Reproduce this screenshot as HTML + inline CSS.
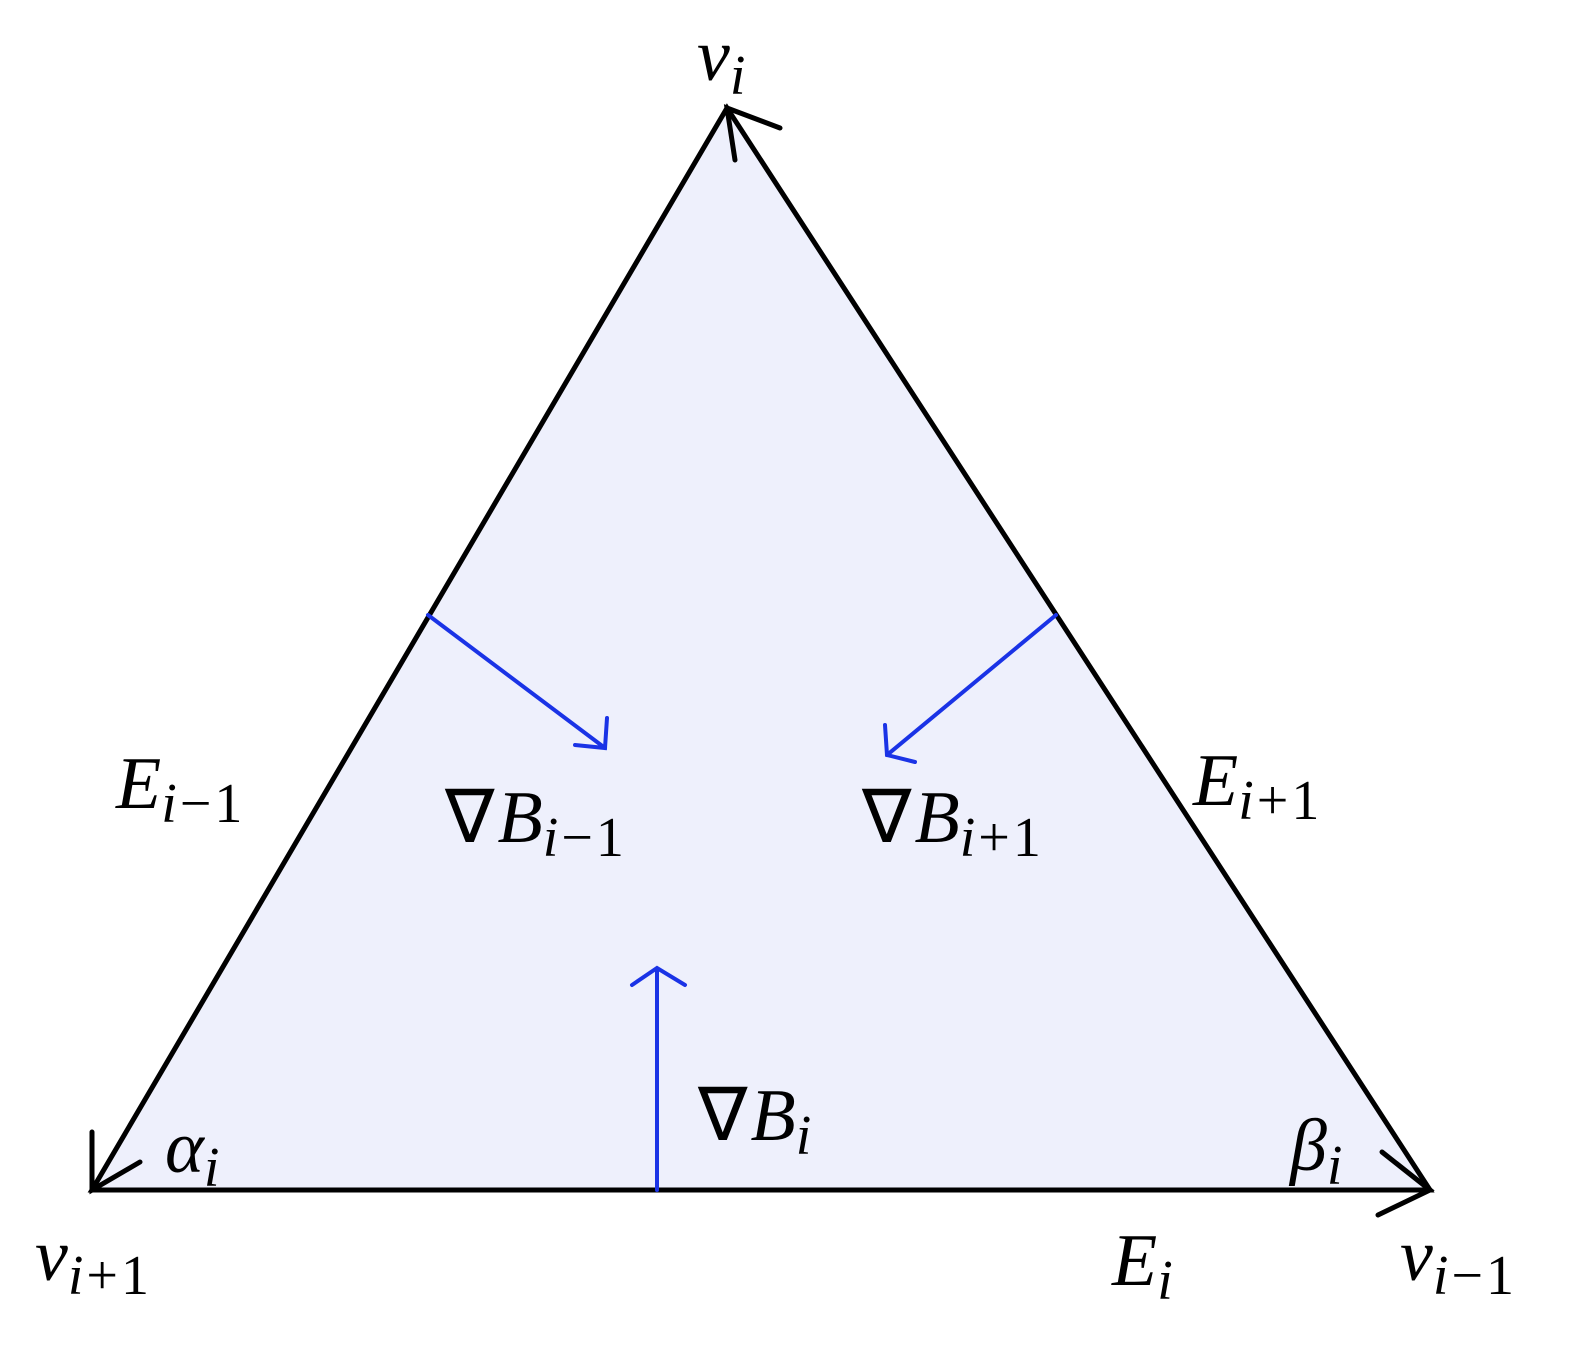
<!DOCTYPE html>
<html><head><style>
html,body{margin:0;padding:0;background:#fff;}
svg text{font-family:"Liberation Serif",serif;font-style:italic;fill:#000;}
.up{font-style:normal}
tspan{letter-spacing:3px}
</style></head><body>
<svg width="1574" height="1346" viewBox="0 0 1574 1346" xmlns="http://www.w3.org/2000/svg">
<polygon points="727,108 92,1190 1430,1190" fill="#eef0fc" stroke="#000" stroke-width="5" stroke-linejoin="miter"/>
<g stroke="#000" stroke-width="5" fill="none" stroke-linecap="round">
<polyline points="735,160 727,108 780,128"/>
<polyline points="92,1132 92,1190 140,1162"/>
<polyline points="1382,1152 1430,1190 1378,1215"/>
</g>
<g stroke="#1a33e6" stroke-width="4" fill="none" stroke-linecap="round">
<line x1="428" y1="615" x2="605" y2="748"/>
<polyline points="607,718 605,748 575,745"/>
<line x1="1056" y1="615" x2="887" y2="755"/>
<polyline points="885,725 887,755 915,762"/>
<line x1="657" y1="1190" x2="657" y2="970"/>
<polyline points="632,985 657,968 685,985"/>
</g>
<g font-size="74">
<text x="697" y="80">v<tspan font-size="56" dy="14">i</tspan></text>
<text x="116" y="808">E<tspan font-size="56" dy="14">i</tspan><tspan class="up" font-size="56">−1</tspan></text>
<text x="1193" y="805">E<tspan font-size="56" dy="14">i</tspan><tspan class="up" font-size="56">+1</tspan></text>
<text x="445" y="842"><tspan class="up">∇</tspan>B<tspan font-size="56" dy="14">i</tspan><tspan class="up" font-size="56">−1</tspan></text>
<text x="862" y="842"><tspan class="up">∇</tspan>B<tspan font-size="56" dy="14">i</tspan><tspan class="up" font-size="56">+1</tspan></text>
<text x="698" y="1140"><tspan class="up">∇</tspan>B<tspan font-size="56" dy="14">i</tspan></text>
<text x="165" y="1172">α<tspan font-size="56" dy="14">i</tspan></text>
<text x="1290" y="1170">β<tspan font-size="56" dy="14">i</tspan></text>
<text x="35" y="1280">v<tspan font-size="56" dy="14">i</tspan><tspan class="up" font-size="56">+1</tspan></text>
<text x="1112" y="1285">E<tspan font-size="56" dy="14">i</tspan></text>
<text x="1400" y="1280">v<tspan font-size="56" dy="14">i</tspan><tspan class="up" font-size="56">−1</tspan></text>
</g>
</svg>
</body></html>
